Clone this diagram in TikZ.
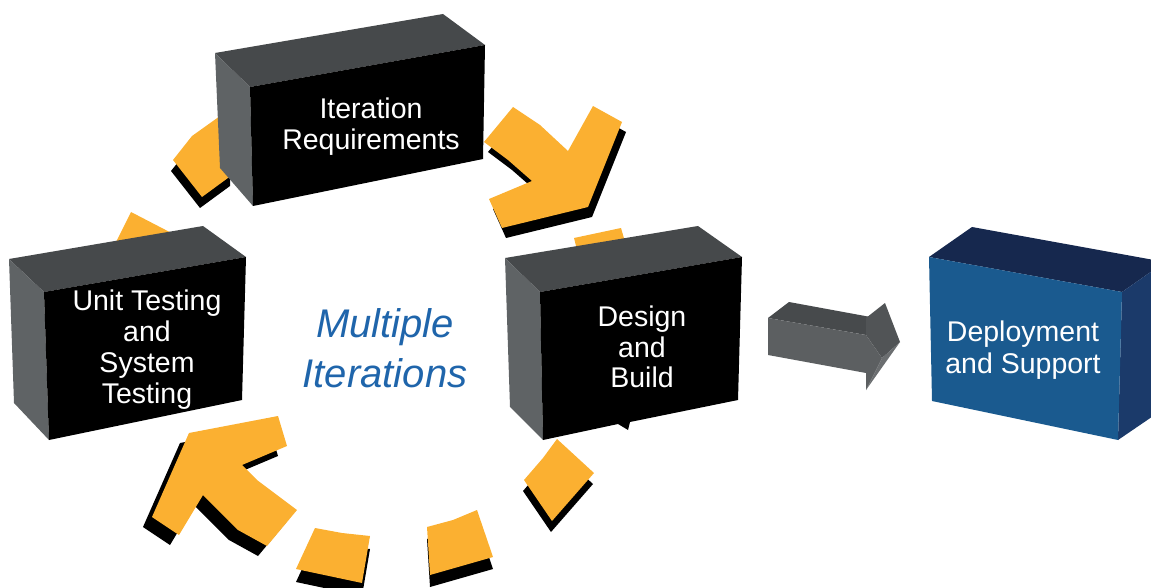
\documentclass[tikz,border=0pt]{standalone}
\usepackage{fontspec}
\setmainfont{Liberation Sans}
\definecolor{ringorange}{HTML}{FBB031}
\definecolor{boxtop}{HTML}{46494B}
\definecolor{boxside}{HTML}{5F6365}
\definecolor{deptop}{HTML}{16284E}
\definecolor{depfront}{HTML}{1A5A8F}
\definecolor{depside}{HTML}{1B3A6A}
\definecolor{itertext}{HTML}{1F65AB}
\definecolor{arrtop}{HTML}{474A4C}
\definecolor{arrfront}{HTML}{5C5F61}
\definecolor{arrhead}{HTML}{515456}
\definecolor{arrlight}{HTML}{6B6E70}
% one orange piece of the ring with its black drop shadow
\newcommand\ringpiece[2]{%
  \fill[black,shift={#1}] #2;
  \fill[ringorange] #2;}
\begin{document}
\begin{tikzpicture}[x=1pt,y=-1pt,
  boxlabel/.style={text=white,align=center,inner sep=0pt,
    font=\fontsize{28.5}{31}\selectfont}]
\clip (0,0) rectangle (1151,588);

% ring pieces partly hidden behind the boxes
\fill[ringorange] (131,212)--(100,274)--(185,240)--cycle;
\fill[ringorange] (574,238)--(621,228)--(628,252)--(580,262)--cycle;
\ringpiece{(-2,11)}{(173,160)--(192,136)--(220,116)--(232,116)--(232,175)--(202,197)--cycle}

% arrow heads of the ring
\ringpiece{(4,10)}{(484,142)--(513,107)--(540,125)--(568,151)--(593,106)--(622,122)--(588,207)--(502,228)--(489,199)--(532,181)--(508,160)--cycle}
\ringpiece{(-9,10)}{(189,433)--(278,416)--(287,446)--(242,465)--(257,480)--(277,495)--(297,510)--(267,546)--(238,530)--(203,495)--(179,535)--(152,517)--cycle}

% dashes along the bottom of the ring
\ringpiece{(0,13)}{(315,528)--(342,533)--(370,536)--(362,583)--(296,569)--cycle}
\ringpiece{(0,12)}{(427,527)--(453,520)--(477,510)--(493,557)--(430,575)--cycle}
\ringpiece{(-1,11)}{(557,439)--(594,473)--(552,521)--(524,480)--(543,458)--cycle}

% Iteration Requirements box
\fill[boxtop] (215,53)--(443,14)--(485,45)--(250,87)--cycle;
\fill[boxside] (215,53)--(250,87)--(253,206)--(220,168)--cycle;
\fill[black] (250,87)--(485,45)--(483,159)--(253,206)--cycle;
\node[boxlabel] (reqtext) at (371,126.3) {Iteration\\Requirements};

% Unit Testing and System Testing box
\fill[boxtop] (9,259)--(203,226)--(246,257)--(44,292)--cycle;
\fill[boxside] (9,259)--(44,292)--(49,440)--(14,403)--cycle;
\fill[black] (44,292)--(246,257)--(242,400)--(49,440)--cycle;
\node[boxlabel] (testtext) at (147,349.3) {Unit Testing\\and\\System\\Testing};

% Design and Build box
\fill[boxtop] (505,258)--(698,226)--(742,257)--(540,292)--cycle;
\fill[boxside] (505,258)--(540,292)--(543,440)--(510,407)--cycle;
\fill[black] (540,292)--(742,257)--(738,400)--(630,422)--(628,430)--(618,424)--(543,440)--cycle;
\node[boxlabel,font=\fontsize{28.5}{30.5}\selectfont] (buildtext) at (642,347.3) {Design\\and\\Build};

% centre caption
\node[text=itertext,align=center,inner sep=0pt,
  font=\fontsize{40}{50}\selectfont\itshape] (multitext) at (385,348.7) {Multiple\\Iterations};

% grey arrow towards deployment
\fill[arrtop] (768,318)--(789,302)--(876,318)--(866,335)--cycle;
\fill[arrfront] (768,318)--(866,335)--(866,373)--(768,355)--cycle;
\fill[arrhead] (866,318)--(885,303)--(900,342)--(882,358)--(866,335)--cycle;
\fill[arrfront] (866,335)--(882,358)--(866,390)--cycle;
\fill[arrlight] (882,358)--(900,342)--(866,390)--cycle;

% Deployment and Support box
\fill[deptop] (972,227)--(1165,262)--(1122,292)--(929,257)--cycle;
\fill[depside] (1122,292)--(1165,262)--(1162,410)--(1118,440)--cycle;
\fill[depfront] (929,257)--(1122,292)--(1118,440)--(932,401)--cycle;
\node[boxlabel,font=\fontsize{28.5}{32}\selectfont] (deploytext) at (1023,350.6) {Deployment\\and Support};
\end{tikzpicture}
\end{document}
